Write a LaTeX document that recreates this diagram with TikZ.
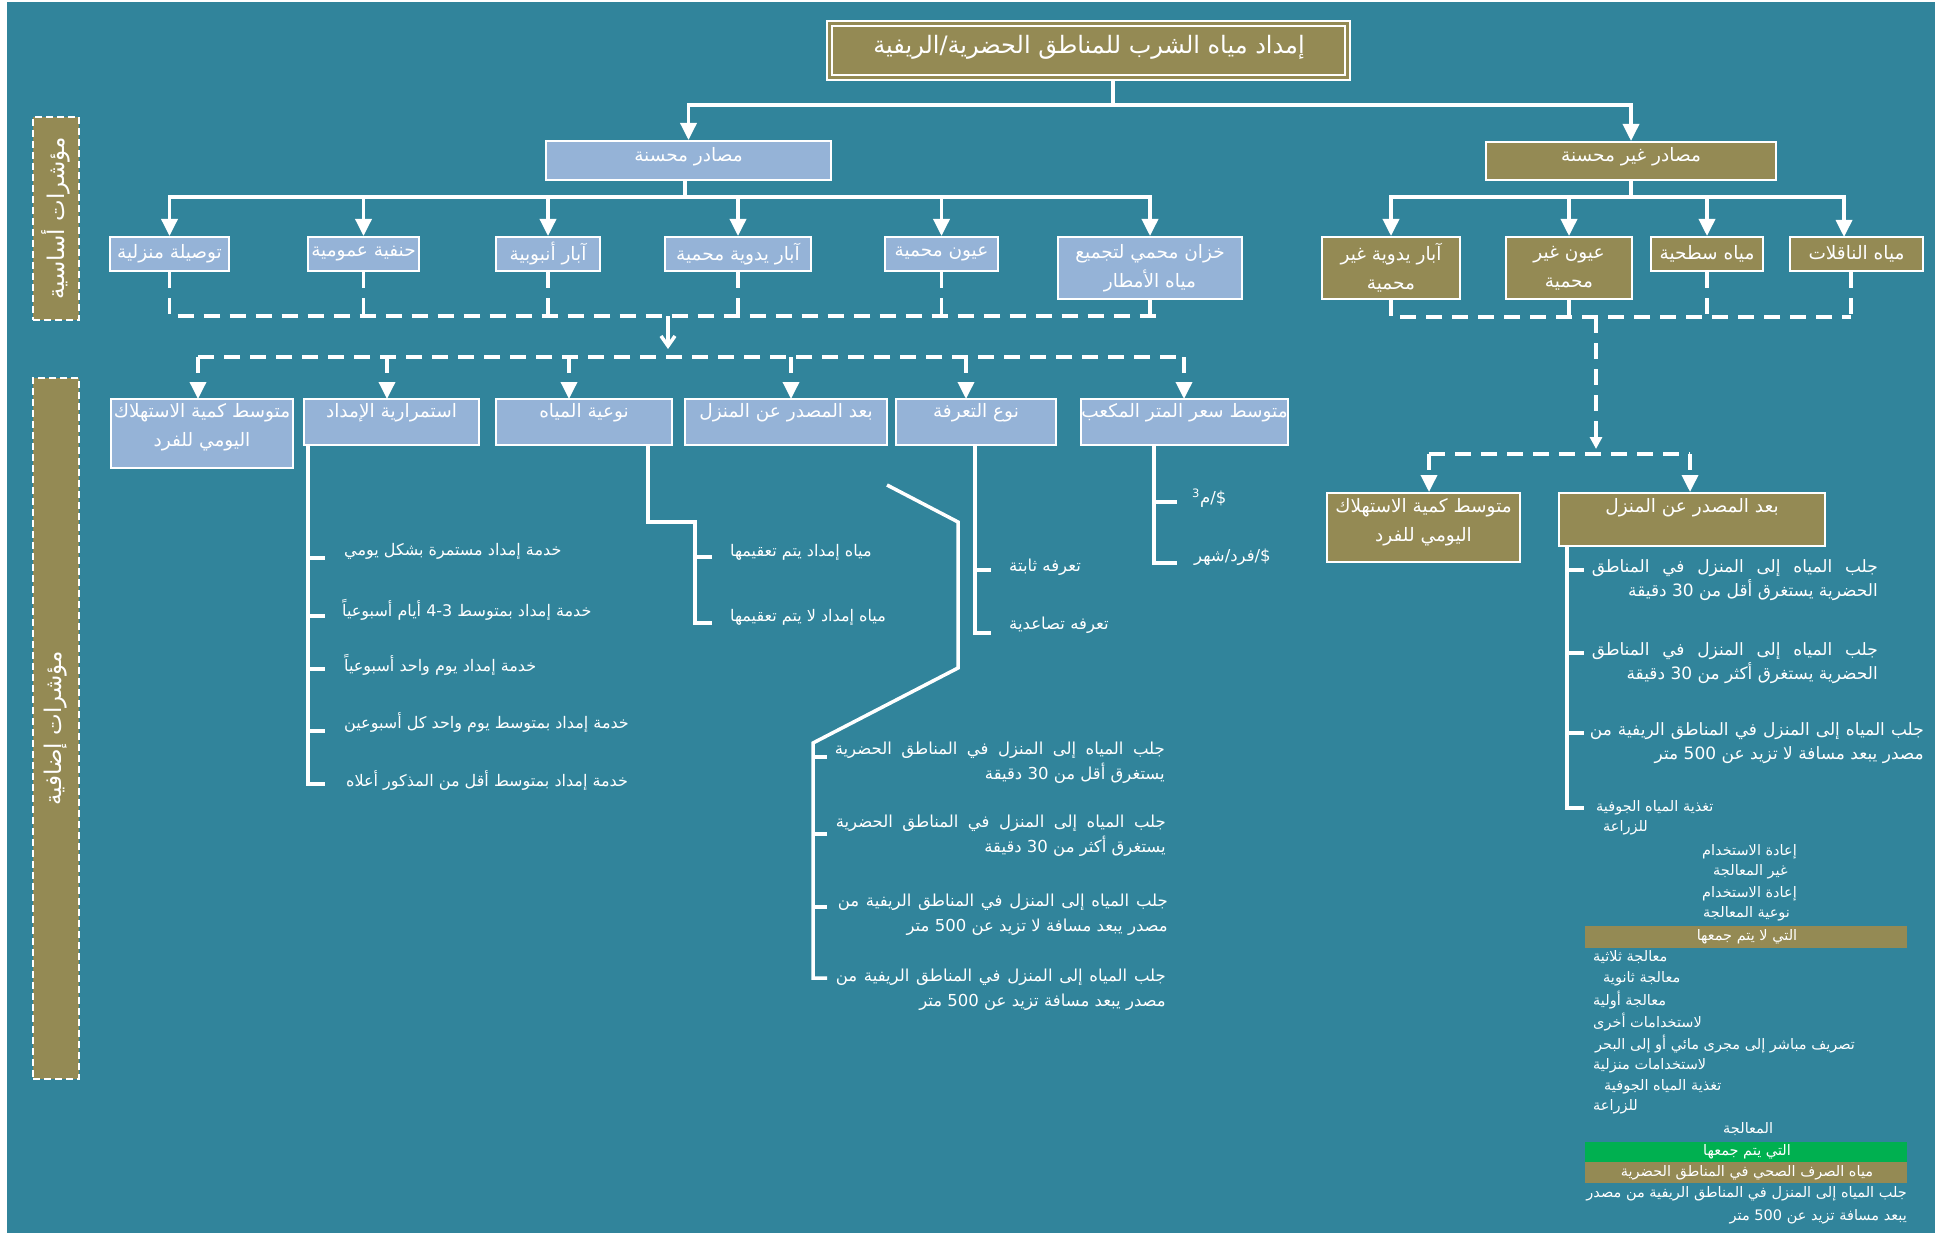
\documentclass[tikz,border=0pt]{standalone}
\usepackage{fontspec}
\setmainfont{DejaVu Sans}
\newfontfamily\ar[Script=Arabic]{DejaVu Sans}
\TeXXeTstate=1
\usetikzlibrary{arrows.meta}
\definecolor{bg}{HTML}{31849B}
\definecolor{lblue}{HTML}{95B3D7}
\definecolor{olv}{HTML}{948A54}
\definecolor{grn}{HTML}{00B050}
\newcommand{\AR}[1]{{\ar\beginR #1\endR}}
\newcommand{\JL}[2]{\makebox[#1][s]{\ar #2}}
\newcommand{\fT}{\fontsize{24}{28}\selectfont}
\newcommand{\fB}{\fontsize{18.5}{29}\selectfont}
\newcommand{\fL}{\fontsize{16}{25}\selectfont}
\newcommand{\fM}{\fontsize{16.5}{25}\selectfont}
\newcommand{\fRL}{\fontsize{17}{24}\selectfont}
\newcommand{\fS}{\fontsize{14.5}{20}\selectfont}
\newcommand{\fR}{\fontsize{23}{26}\selectfont}
\tikzset{
  conn/.style={draw=white, line width=3.5pt},
  tip/.style={-{Triangle[length=17pt,width=16pt]}},
  arr/.style={conn, tip},
  dsh/.style={draw=white, line width=3.5pt, dash pattern=on 16pt off 10pt},
  bbox/.style={draw=white, line width=2pt, fill=lblue, inner sep=0pt},
  obox/.style={draw=white, line width=2pt, fill=olv, inner sep=0pt},
  txt/.style={text=white, inner sep=0pt, align=center},
  btxt/.style={txt, font=\fB},
  ltxt/.style={txt, font=\fL},
  mtxt/.style={txt, font=\fM},
  rtxt/.style={txt, font=\fRL},
  stxt/.style={txt, font=\fS},
  side/.style={fill=olv, draw=white, line width=1.5pt, dash pattern=on 7pt off 4pt, minimum width=46pt},
}
\begin{document}
\begin{tikzpicture}[x=1pt,y=-1pt]
\useasboundingbox (0,0) rectangle (1945,1233);
\fill[white] (0,0) rectangle (1945,1233);
\fill[bg] (7,2) rectangle (1935,1233);

% ---------- title ----------
\node[obox, minimum width=523pt, minimum height=59pt] (title) at (1088.5,50.5) {};
\node[draw=white, line width=1.5pt, minimum width=513pt, minimum height=49pt] (titlein) at (1088.5,50.5) {};
\node[txt, font=\fT] (titlet) at (1089,47) {\AR{إمداد مياه الشرب للمناطق الحضرية/الريفية}};

% ---------- level 2 ----------
\node[bbox, minimum width=285pt, minimum height=39pt] (L2a) at (688.5,160.5) {};
\node[btxt] (L2at) at (688.5,157) {\AR{مصادر محسنة}};
\node[obox, minimum width=290pt, minimum height=38pt] (L2b) at (1631,161) {};
\node[btxt] (L2bt) at (1631,157) {\AR{مصادر غير محسنة}};

\coordinate (tj) at (1113,105);
\draw[conn] (title.south -| tj) -- (tj);
\draw[arr] (tj) -| (L2a.north);
\draw[arr] (tj) -| (L2b.north);

% ---------- improved sources ----------
\node[bbox, minimum width=119pt, minimum height=34pt] (i1) at (169.5,254) {};
\node[bbox, minimum width=111pt, minimum height=34pt] (i2) at (363.5,254) {};
\node[bbox, minimum width=104pt, minimum height=34pt] (i3) at (548,254) {};
\node[bbox, minimum width=146pt, minimum height=34pt] (i4) at (738,254) {};
\node[bbox, minimum width=113pt, minimum height=34pt] (i5) at (941.5,254) {};
\node[bbox, minimum width=184pt, minimum height=62pt] (i6) at (1150,268) {};
\node[btxt] (i1t) at (i1) {\AR{توصيلة منزلية}};
\node[btxt] (i2t) at (i2) {\AR{حنفية عمومية}};
\node[btxt] (i3t) at (i3) {\AR{آبار أنبوبية}};
\node[btxt] (i4t) at (i4) {\AR{آبار يدوية محمية}};
\node[btxt] (i5t) at (i5) {\AR{عيون محمية}};
\node[btxt] (i6t) at (i6) {\AR{خزان محمي لتجميع}\\\AR{مياه الأمطار}};

\coordinate (ja) at (685,197);
\draw[conn] (L2a.south -| ja) -- (ja);
\foreach \n in {i1,i2,i3,i4,i5,i6} \draw[arr] (ja) -| (\n.north);

% ---------- unimproved sources ----------
\node[obox, minimum width=138pt, minimum height=62pt] (u1) at (1391,268) {};
\node[obox, minimum width=126pt, minimum height=62pt] (u2) at (1569,268) {};
\node[obox, minimum width=112pt, minimum height=34pt] (u3) at (1707,254) {};
\node[obox, minimum width=133pt, minimum height=34pt] (u4) at (1856.5,254) {};
\node[btxt] (u1t) at (u1) {\AR{آبار يدوية غير}\\\AR{محمية}};
\node[btxt] (u2t) at (u2) {\AR{عيون غير}\\\AR{محمية}};
\node[btxt] (u3t) at (u3) {\AR{مياه سطحية}};
\node[btxt] (u4t) at (u4) {\AR{مياه الناقلات}};

\coordinate (jb) at (1631,197);
\coordinate (u4in) at (1844,237);
\draw[conn] (L2b.south) -- (jb);
\foreach \n in {u1,u2,u3} \draw[arr] (jb) -| (\n.north);
\draw[arr] (jb) -| (u4in);

% ---------- dashed links, improved ----------
\coordinate (d1) at (1164,316);
\draw[dsh] (i1.south) |- (d1);
\foreach \n in {i2,i3,i4,i5,i6} \draw[dsh] (\n.south) -- (\n.south |- d1);
\coordinate (m1) at (668,316);
\coordinate (m2) at (668,349);
\draw[conn, -{Straight Barb[length=10pt,width=14pt]}] (m1) -- (m2);

\coordinate (e0) at (198,357);
\coordinate (e1) at (1184,357);
\draw[dsh] (e0) -- (e1);

% ---------- additional indicators ----------
\node[bbox, minimum width=182pt, minimum height=69pt] (a1) at (202,433.5) {};
\node[bbox, minimum width=175pt, minimum height=46pt] (a2) at (391.5,422) {};
\node[bbox, minimum width=176pt, minimum height=46pt] (a3) at (584,422) {};
\node[bbox, minimum width=202pt, minimum height=46pt] (a4) at (786,422) {};
\node[bbox, minimum width=160pt, minimum height=46pt] (a5) at (976,422) {};
\node[bbox, minimum width=207pt, minimum height=46pt] (a6) at (1184.5,422) {};
\node[btxt] (a1t) at (202,427.5) {\AR{متوسط كمية الاستهلاك}\\\AR{اليومي للفرد}};
\node[btxt] (a2t) at (391.5,413) {\AR{استمرارية الإمداد}};
\node[btxt] (a3t) at (584,413) {\AR{نوعية المياه}};
\node[btxt] (a4t) at (786,413) {\AR{بعد المصدر عن المنزل}};
\node[btxt] (a5t) at (976,413) {\AR{نوع التعرفة}};
\node[btxt] (a6t) at (1184.5,413) {\AR{متوسط سعر المتر المكعب}};

\coordinate (a1in) at (198,399);
\coordinate (a2in) at (387,399);
\coordinate (a3in) at (569,399);
\coordinate (a4in) at (791,399);
\coordinate (a5in) at (966,399);
\coordinate (a6in) at (1184,399);
\foreach \c in {a1in,a2in,a3in,a4in,a5in,a6in} \draw[dsh, tip] (\c |- e0) -- (\c);

% list: continuity
\coordinate (c2) at (308,784);
\draw[conn] (c2 |- a2.south) -- (c2) -- (325,784);
\foreach \y in {558,616,669,731} \draw[conn] (308,\y) -- (325,\y);
\node[ltxt, anchor=west] (a2l1) at (344,551) {\AR{خدمة إمداد مستمرة بشكل يومي}};
\node[ltxt, anchor=west] (a2l2) at (342,610) {\AR{خدمة إمداد بمتوسط 4-3 أيام أسبوعياً}};
\node[ltxt, anchor=west] (a2l3) at (344,665) {\AR{خدمة إمداد يوم واحد أسبوعياً}};
\node[ltxt, anchor=west] (a2l4) at (344,722) {\AR{خدمة إمداد بمتوسط يوم واحد كل أسبوعين}};
\node[ltxt, anchor=west] (a2l5) at (346,780) {\AR{خدمة إمداد بمتوسط أقل من المذكور أعلاه}};

% list: water quality
\draw[conn] (648,445) -- (648,522) -- (695,522) -- (695,623) -- (712,623);
\draw[conn] (695,557) -- (712,557);
\node[ltxt, anchor=west] (a3l1) at (730,552) {\AR{مياه إمداد يتم تعقيمها}};
\node[ltxt, anchor=west] (a3l2) at (730,617) {\AR{مياه إمداد لا يتم تعقيمها}};

% list: distance (bent line)
\draw[conn] (887,485) -- (958,522) -- (958,668) -- (813,743) -- (813,978) -- (827,978);
\foreach \y in {757,834,907} \draw[conn] (813,\y) -- (827,\y);
\node[mtxt, anchor=east, align=right] (a4l1) at (1165,762.5) {\JL{330pt}{\beginR جلب المياه إلى المنزل في المناطق الحضرية\endR}\\\AR{يستغرق أقل من 30 دقيقة}};
\node[mtxt, anchor=east, align=right] (a4l2) at (1166,835.5) {\JL{330pt}{\beginR جلب المياه إلى المنزل في المناطق الحضرية\endR}\\\AR{يستغرق أكثر من 30 دقيقة}};
\node[mtxt, anchor=east, align=right] (a4l3) at (1168,915) {\JL{330pt}{\beginR جلب المياه إلى المنزل في المناطق الريفية من\endR}\\\AR{مصدر يبعد مسافة لا تزيد عن 500 متر}};
\node[mtxt, anchor=east, align=right] (a4l4) at (1166,990) {\JL{330pt}{\beginR جلب المياه إلى المنزل في المناطق الريفية من\endR}\\\AR{مصدر يبعد مسافة تزيد عن 500 متر}};

% list: tariff
\draw[conn] (975,445) -- (975,633) -- (991,633);
\draw[conn] (975,570) -- (991,570);
\node[mtxt, anchor=west] (a5l1) at (1009,567) {\AR{تعرفه ثابتة}};
\node[mtxt, anchor=west] (a5l2) at (1009,625) {\AR{تعرفه تصاعدية}};

% list: price
\draw[conn] (1154,445) -- (1154,563) -- (1177,563);
\draw[conn] (1154,502) -- (1177,502);
\node[mtxt, anchor=west] (a6l1) at (1192,498) {\textsuperscript{3}{\ar م}/\$};
\node[mtxt, anchor=west] (a6l2) at (1194,557) {{\ar شهر}/{\ar فرد}/\$};

% ---------- dashed links, unimproved ----------
\coordinate (f1) at (1851,317);
\draw[dsh] (u1.south) |- (f1);
\draw[dsh] (u2.south) -- (u2.south |- f1);
\draw[dsh] (u3.south) -- (u3.south |- f1);
\draw[dsh] (u4.south -| f1) -- (f1);
\coordinate (g0) at (1596,317);
\coordinate (g1) at (1596,449);
\draw[dsh, -{Triangle[length=12pt,width=12pt]}] (g0) -- (g1);

\node[obox, minimum width=193pt, minimum height=69pt] (r1) at (1423.5,527.5) {};
\node[obox, minimum width=266pt, minimum height=53pt] (r2) at (1692,519.5) {};
\node[btxt] (r1t) at (1423.5,522.5) {\AR{متوسط كمية الاستهلاك}\\\AR{اليومي للفرد}};
\node[btxt] (r2t) at (1692,508) {\AR{بعد المصدر عن المنزل}};

\coordinate (h0) at (1429,454);
\coordinate (h1) at (1690,454);
\draw[dsh] (h0) -- (h1);
\draw[dsh, tip] (h0) -- (h0 |- r1.north);
\draw[dsh, tip] (h1) -- (h1 |- r2.north);

% right list
\draw[conn] (1567,546) -- (1567,808) -- (1584,808);
\foreach \y in {570,653,733} \draw[conn] (1567,\y) -- (1584,\y);
\node[rtxt, anchor=east, align=right] (r2l1) at (1878,580) {\JL{286pt}{\beginR جلب المياه إلى المنزل في المناطق\endR}\\\AR{الحضرية يستغرق أقل من 30 دقيقة}};
\node[rtxt, anchor=east, align=right] (r2l2) at (1878,663.5) {\JL{286pt}{\beginR جلب المياه إلى المنزل في المناطق\endR}\\\AR{الحضرية يستغرق أكثر من 30 دقيقة}};
\node[rtxt, anchor=east, align=right] (r2l3) at (1924,743.5) {\JL{334pt}{\beginR جلب المياه إلى المنزل في المناطق الريفية من\endR}\\\AR{مصدر يبعد مسافة لا تزيد عن 500 متر}};
\node[stxt, anchor=west] (r2l4a) at (1596,808) {\AR{تغذية المياه الجوفية}};
\node[stxt, anchor=west] (r2l4b) at (1603,828) {\AR{للزراعة}};

% bottom right texts
\node[stxt, anchor=west] (w1) at (1702,852) {\AR{إعادة الاستخدام}};
\node[stxt, anchor=west] (w2) at (1713,872) {\AR{غير المعالجة}};
\node[stxt, anchor=west] (w3) at (1702,894) {\AR{إعادة الاستخدام}};
\node[stxt, anchor=west] (w4) at (1703,914) {\AR{نوعية المعالجة}};
\node[fill=olv, minimum width=322pt, minimum height=22pt, inner sep=0pt] (bar1) at (1746,937) {};
\node[stxt] (bar1t) at (1747,937) {\AR{التي لا يتم جمعها}};
\node[stxt, anchor=west] (w5) at (1593,957) {\AR{معالجة ثلاثية}};
\node[stxt, anchor=west] (w6) at (1603,979) {\AR{معالجة ثانوية}};
\node[stxt, anchor=west] (w7) at (1593,1000) {\AR{معالجة أولية}};
\node[stxt, anchor=west] (w8) at (1593,1022) {\AR{لاستخدامات أخرى}};
\node[stxt, anchor=west] (w9) at (1595,1044) {\AR{تصريف مباشر إلى مجرى مائي أو إلى البحر}};
\node[stxt, anchor=west] (w10) at (1593,1066) {\AR{لاستخدامات منزلية}};
\node[stxt, anchor=west] (w11) at (1604,1087) {\AR{تغذية المياه الجوفية}};
\node[stxt, anchor=west] (w12) at (1593,1107) {\AR{للزراعة}};
\node[stxt, anchor=west] (w13) at (1723,1129) {\AR{المعالجة}};
\node[fill=grn, minimum width=322pt, minimum height=20pt, inner sep=0pt] (bar2) at (1746,1152) {};
\node[stxt] (bar2t) at (1747,1152) {\AR{التي يتم جمعها}};
\node[fill=olv, minimum width=322pt, minimum height=21pt, inner sep=0pt] (bar3) at (1746,1172.5) {};
\node[stxt] (bar3t) at (1747,1172.5) {\AR{مياه الصرف الصحي في المناطق الحضرية}};
\node[stxt, anchor=east] (w14) at (1907,1194) {\AR{جلب المياه إلى المنزل في المناطق الريفية من مصدر}};
\node[stxt, anchor=east] (w15) at (1907,1217) {\AR{يبعد مسافة تزيد عن 500 متر}};

% ---------- side labels ----------
\node[side, minimum height=203pt] (s1) at (56,218.5) {};
\node[txt, font=\fR, rotate=90] (s1t) at (s1) {\AR{مؤشرات أساسية}};
\node[side, minimum height=701pt] (s2) at (56,728.5) {};
\node[txt, font=\fR, rotate=90] (s2t) at (s2) {\AR{مؤشرات إضافية}};
\end{tikzpicture}
\end{document}
